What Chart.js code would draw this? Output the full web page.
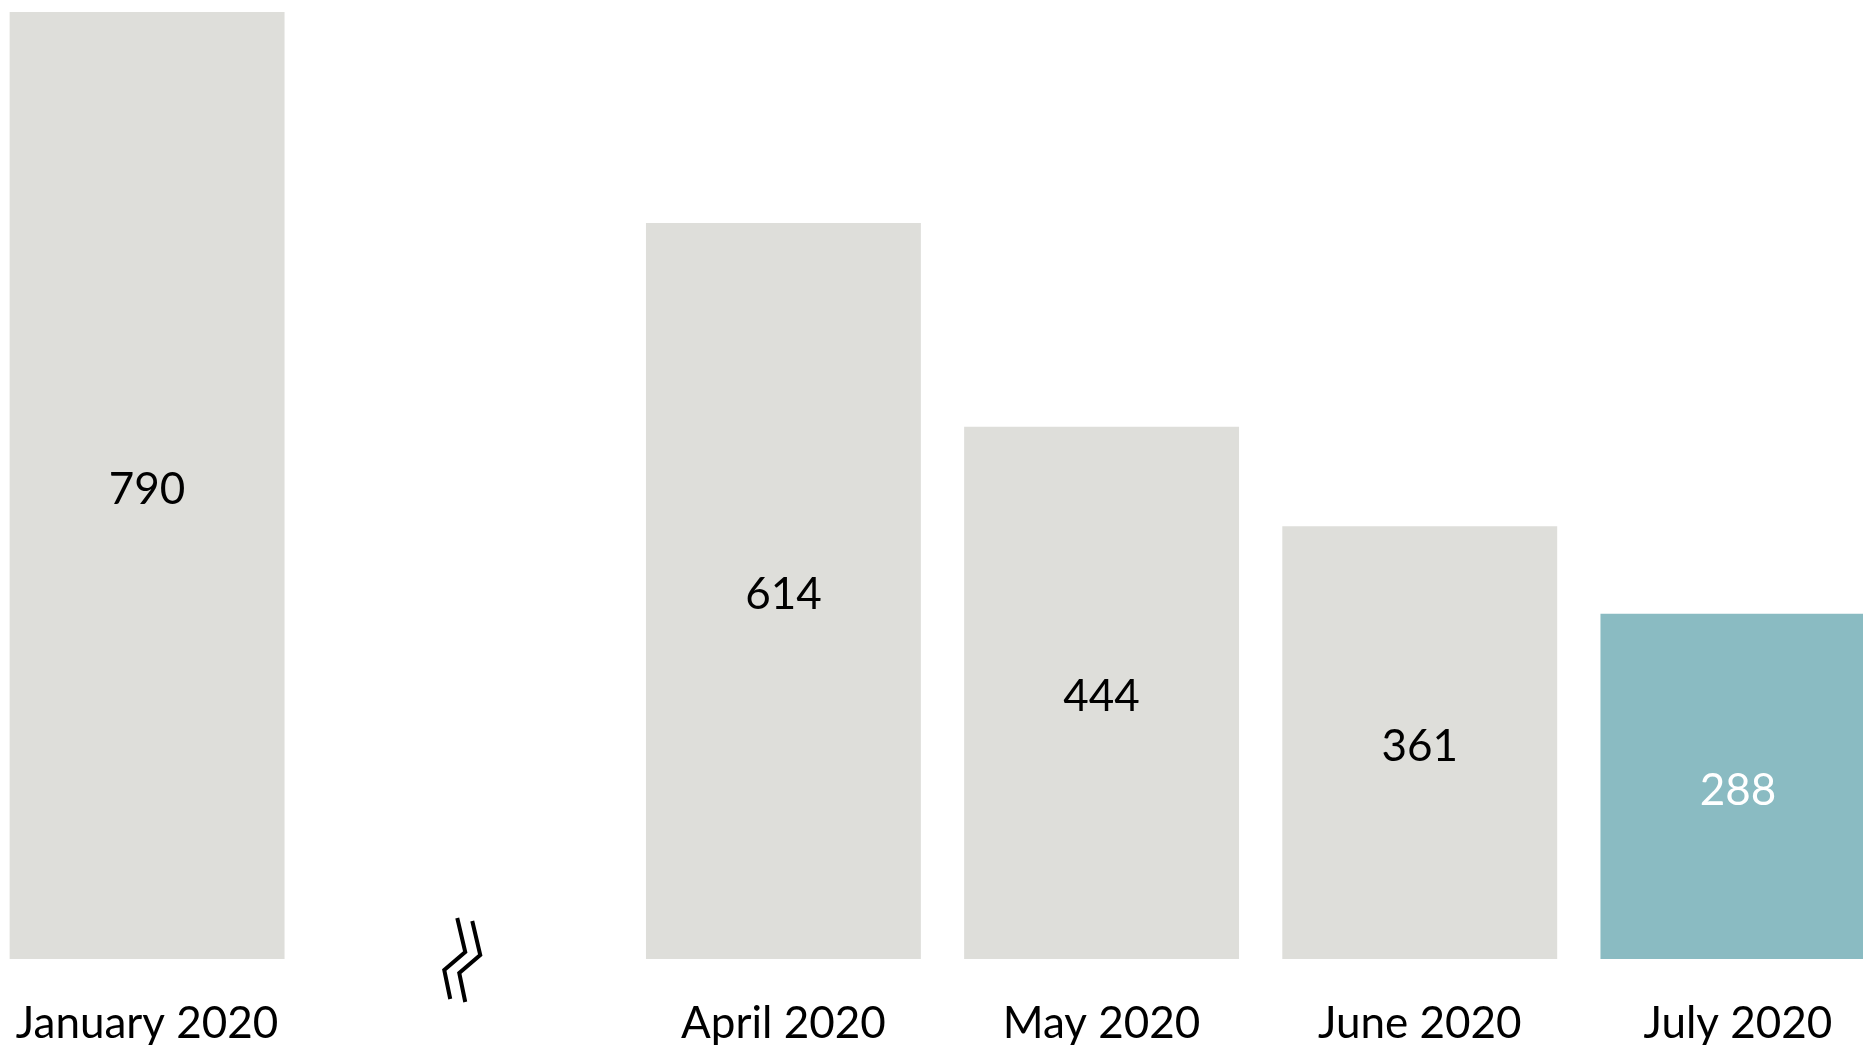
<!DOCTYPE html>
<html>
<head>
<meta charset="utf-8">
<script src="https://cdn.jsdelivr.net/npm/chart.js@4"></script>
<style>
  html, body { margin: 0; padding: 0; background: #fff; overflow: hidden; }
  body { width: 1863px; height: 1045px; position: relative; }
  #chart { position: absolute; left: -12px; top: 0; }
</style>
</head>
<body>
<canvas id="chart" width="1909" height="1045"></canvas>
<script>
// months shown; the blank slot holds the axis break
const months = ["January 2020", "", "April 2020", "May 2020", "June 2020", "July 2020"];
const counts = [790, null, 614, 444, 361, 288];
const barColors = ["#dededa", "#dededa", "#dededa", "#dededa", "#dededa", "#8abbc2"];
const labelColors = ["#000", "#000", "#000", "#000", "#000", "#fff"];

const FONT = "Lato, 'Open Sans', sans-serif";

// value written in the middle of each bar
const valueLabels = {
    id: "valueLabels",
    afterDatasetsDraw(chart) {
        const ctx = chart.ctx;
        const meta = chart.getDatasetMeta(0);
        ctx.save();
        ctx.font = "44px " + FONT;
        ctx.textAlign = "center";
        ctx.textBaseline = "middle";
        meta.data.forEach((bar, i) => {
            const v = counts[i];
            if (v == null) return;
            ctx.fillStyle = labelColors[i];
            ctx.fillText(String(v), bar.x, (bar.y + bar.base) / 2 + 4);
        });
        ctx.restore();
    }
};

// double zigzag marking the skipped months
const axisBreak = {
    id: "axisBreak",
    afterDraw(chart) {
        const ctx = chart.ctx;
        const x = chart.scales.x.getPixelForValue(1);
        const y = chart.scales.y.getPixelForValue(0);
        const shape = [[-8, -41], [0, -7], [-21, 11], [-15, 40]];
        ctx.save();
        ctx.strokeStyle = "#000";
        ctx.lineWidth = 4;
        ctx.lineJoin = "miter";
        [[0, 0], [15, 3]].forEach(off => {
            ctx.beginPath();
            shape.forEach((p, i) => {
                const px = x + p[0] + off[0];
                const py = y + p[1] + off[1];
                if (i === 0) ctx.moveTo(px, py); else ctx.lineTo(px, py);
            });
            ctx.stroke();
        });
        ctx.restore();
    }
};

new Chart(document.getElementById("chart"), {
    type: "bar",
    data: {
        labels: months,
        datasets: [{
            data: counts,
            backgroundColor: barColors,
            borderWidth: 0,
            barPercentage: 0.864,
            categoryPercentage: 1
        }]
    },
    options: {
        responsive: false,
        animation: false,
        layout: { padding: 0 },
        plugins: {
            legend: { display: false },
            tooltip: { enabled: false }
        },
        scales: {
            x: {
                grid: { display: false, drawTicks: false },
                border: { display: false },
                ticks: {
                    color: "#000",
                    font: { family: FONT, size: 44 },
                    padding: 38,
                    maxRotation: 0,
                    autoSkip: false
                },
                afterFit(scale) {
                    // fixed band under the bars, full width for the plot
                    scale.height = 86;
                    scale.paddingLeft = 0;
                    scale.paddingRight = 0;
                }
            },
            y: {
                display: false,
                min: 0,
                max: 800
            }
        }
    },
    plugins: [valueLabels, axisBreak]
});
</script>
</body>
</html>
